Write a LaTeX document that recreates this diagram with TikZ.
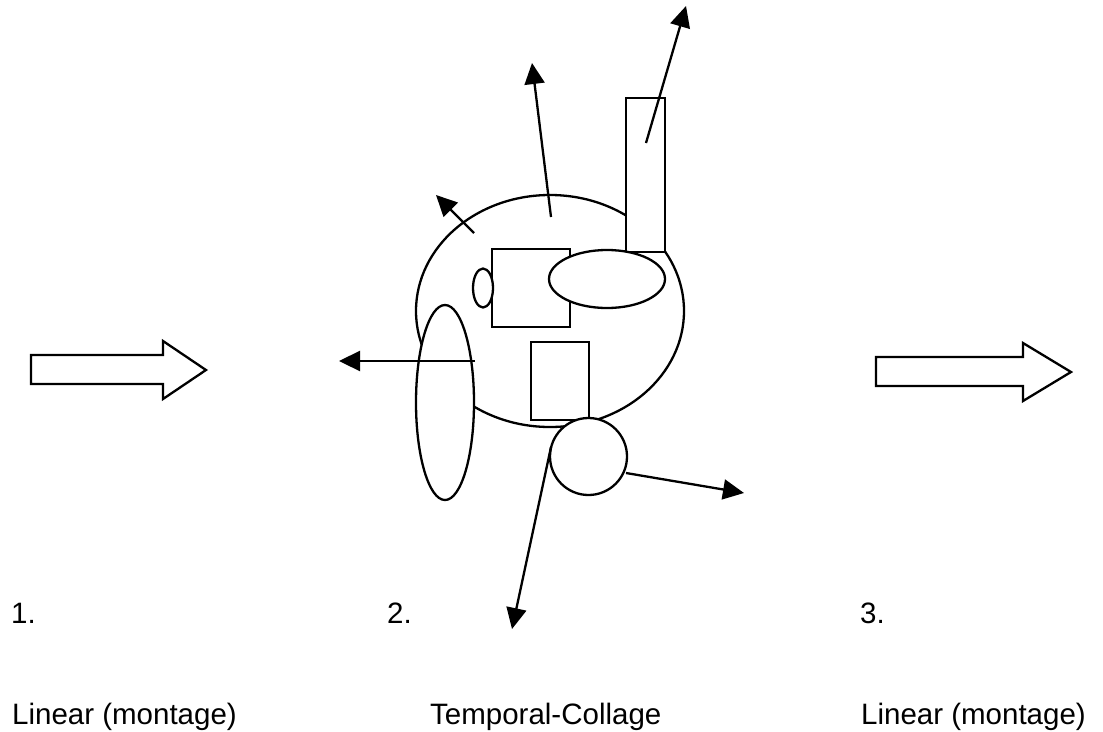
\documentclass[tikz,border=0pt]{standalone}
\usepackage{fontspec}
\setmainfont{Liberation Sans}
\usetikzlibrary{arrows.meta,shapes.geometric}
\begin{document}
\begin{tikzpicture}[x=1pt,y=-1pt,
  line width=2.3pt, line join=miter,
  part/.style={draw=black, fill=white, line width=2.3pt, inner sep=0pt, outer sep=0pt},
  oval/.style={part, ellipse},
  box/.style={part, rectangle},
  ray/.style={line width=2.3pt, -{Triangle[length=21pt,width=20pt]}},
  label/.style={font=\fontsize{29.5}{35}\selectfont, anchor=base west, inner sep=0pt},
  blockarrow/.style={draw=black, fill=white, line width=2.3pt}]
\useasboundingbox (0,0) rectangle (1103,731);
\fill[white] (0,0) rectangle (1103,731);

% left block arrow
\draw[blockarrow] (31,355) -- (163,355) -- (163,341) -- (206,370) -- (163,399)
  -- (163,384) -- (31,384) -- cycle;
% right block arrow
\draw[blockarrow] (876,357) -- (1023,357) -- (1023,343) -- (1071,372) -- (1023,401)
  -- (1023,386) -- (876,386) -- cycle;

% central collage
\node[oval, minimum width=268pt, minimum height=232pt] (body) at (550,311) {};
\node[box, minimum width=39pt, minimum height=154pt] (tower) at (645.5,175) {};
\node[box, minimum width=78pt, minimum height=78pt] (sqA) at (531,288) {};
\node[oval, minimum width=116pt, minimum height=58pt] (lens) at (607,279) {};
\node[oval, minimum width=20pt, minimum height=39pt] (dot) at (483,288) {};
\node[oval, minimum width=58pt, minimum height=195pt] (pod) at (445,402.5) {};
\node[box, minimum width=58pt, minimum height=78pt] (sqB) at (560,381) {};
\node[circle, part, minimum size=77pt] (ball) at (588.5,456.5) {};

% rays leaving the collage
\coordinate (s1) at (474,233);  \coordinate (t1) at (436,195);
\coordinate (s2) at (551,217);  \coordinate (t2) at (532,63);
\coordinate (s3) at (646,143);  \coordinate (t3) at (686,6);
\coordinate (s4) at (475,361);  \coordinate (t4) at (339,361);
\coordinate (s5) at (626,473);  \coordinate (t5) at (744,493);
\coordinate (s6) at (551,447);  \coordinate (t6) at (512,629);
\draw[ray] (s1) -- (t1);
\draw[ray] (s2) -- (t2);
\draw[ray] (s3) -- (t3);
\draw[ray] (s4) -- (t4);
\draw[ray] (s5) -- (t5);
\draw[ray] (s6) -- (t6);

% numbering
\node[label] (n1) at (10,623) {1.};
\node[label] (n2) at (386,623) {2.};
\node[label] (n3) at (859,623) {3.};

% captions
\node[label] (c1) at (11,724) {Linear (montage)};
\node[label] (c2) at (429,724) {Temporal-Collage};
\node[label] (c3) at (860,724) {Linear (montage)};
\end{tikzpicture}
\end{document}
